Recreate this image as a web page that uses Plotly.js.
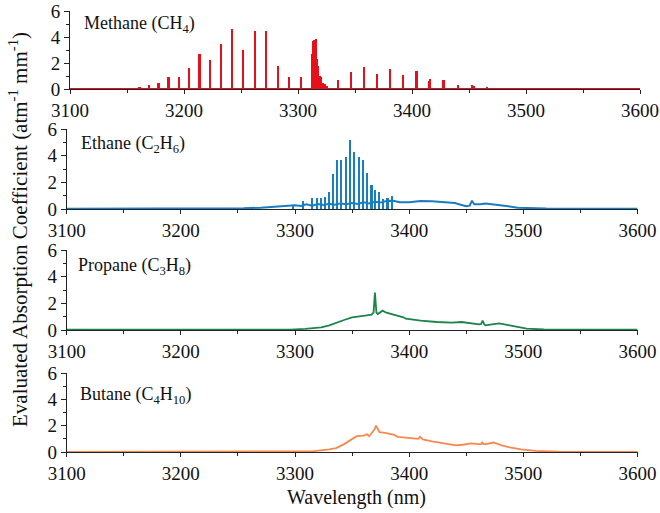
<!DOCTYPE html>
<html><head><meta charset="utf-8">
<script src="https://cdn.plot.ly/plotly-3.0.1.min.js"></script>
<style>body{margin:0;background:#fff;} #chart{width:660px;height:513px;}</style>
</head><body><div id="chart"></div>
<script>
// Methane stick lines (nm, coefficient)
const methaneNm  = [3135,3143,3152.7,3161,3169.3,3177.7,3186.3,3195.3,3204.3,3213.7,3223,3232.7,3242,3252,3262,3272,3282.3,3292.3,3302.7,
  3310.5,3312.6,3313.5,3314.5,3315.5,3316.4,3317.3,3318.2,3319.2,3320.3,3322,3323.5,3325,3327,
  3335.3,3346.7,3357.7,3369.3,3380.7,3392.3,3404,3414.7,3416,3427.7,3440.3,3452.7,3454.5,3465.7,3478.3,3491.7,3505,3520,3535];
const methaneVal = [0.03,0.05,0.08,0.15,0.3,0.5,0.9,0.9,1.6,2.7,2.2,3.5,4.6,3.0,4.5,4.45,1.8,0.9,0.95,
  0.1,2.7,3.7,3.8,3.85,2.3,1.8,1.0,1.0,0.9,0.45,0.4,0.2,0.08,
  0.7,1.3,1.7,1.15,1.55,1.05,1.4,0.6,0.75,0.7,0.3,0.3,0.25,0.12,0.1,0.05,0.03,0.03,0.02];
const methaneBaseNm  = [3100,3600];
const methaneBaseVal = [0,0];

// Ethane sharp features and continuum
const ethaneSpikeNm  = [3298,3307,3315,3319,3322.6,3326,3329.4,3333,3337,3340.6,3344.3,3348.5,3352,3355.7,3359.4,3363.4,3367,3370,3373.8,3376.8,3381,3384.6];
const ethaneSpikeVal = [0.33,0.6,0.8,0.85,0.85,0.93,1.28,2.6,3.7,3.65,3.9,5.2,4.25,3.9,3.7,2.7,1.8,1.43,1.3,0.75,0.8,0.95];
const ethaneNm  = [3100,3200,3240,3255,3270,3285,3300,3305,3310,3315,3320,3325,3330,3335,3340,3345,3350,3355,3360,3365,3370,3375,3380,3386,3392,3400,3410,3420,3430,3440,3446,3450,3453,3455,3457,3462,3467,3475,3485,3495,3505,3520,3560,3600];
const ethaneVal = [0.02,0.02,0.03,0.05,0.1,0.2,0.28,0.22,0.35,0.25,0.38,0.3,0.4,0.32,0.42,0.35,0.45,0.38,0.5,0.42,0.55,0.48,0.6,0.62,0.5,0.5,0.6,0.58,0.52,0.45,0.3,0.2,0.25,0.62,0.35,0.35,0.42,0.35,0.22,0.1,0.05,0.03,0.02,0.02];

// Propane
const propaneNm  = [3100,3200,3290,3296,3309,3323,3330,3336,3343,3350,3356.6,3363,3367,3368.8,3370,3371.3,3372.5,3374,3376.8,3380,3387,3395,3397,3410,3424,3437,3446,3454,3461,3463,3464.3,3465.8,3467,3471,3479,3488,3496,3503,3518,3542,3600];
const propaneVal = [0.02,0.02,0.02,0.03,0.08,0.2,0.35,0.55,0.75,0.95,1.05,1.1,1.15,1.3,2.8,1.3,1.2,1.3,1.45,1.3,1.15,0.95,0.85,0.7,0.6,0.55,0.6,0.5,0.42,0.45,0.7,0.42,0.35,0.4,0.5,0.35,0.2,0.1,0.04,0.02,0.02];

// Butane
const butaneNm  = [3100,3200,3303,3315,3330,3336,3343,3350,3354,3360,3363,3365,3367,3369.5,3371,3372.5,3374,3379,3387,3390,3397,3404,3408,3409.5,3411,3412,3420,3431,3441,3447,3454,3461,3463,3464,3465,3467,3474,3481,3488,3498,3511,3531,3565,3600];
const butaneVal = [0.01,0.01,0.01,0.05,0.2,0.3,0.6,1.0,1.2,1.25,1.35,1.2,1.4,1.7,2.0,1.7,1.5,1.45,1.3,1.15,1.1,1.05,1.0,1.15,1.0,0.95,0.8,0.65,0.5,0.55,0.65,0.6,0.6,0.72,0.6,0.6,0.72,0.5,0.35,0.2,0.08,0.03,0.01,0.0];

const xTickVals = [3100,3200,3300,3400,3500,3600];
const yTickVals = [0,2,4,6];

const colMethane = '#e5101a', colEthane = '#1a7cc1', colPropane = '#1d8348', colButane = '#f6894d';
const FONT = '"Liberation Serif", "Times New Roman", Times, serif';
const W = 660, H = 513;

function xax(dom, anchor){
  return {domain: dom, anchor: anchor, range: [3100,3600], tickvals: xTickVals, ticktext: xTickVals.map(String),
    showline: true, linecolor: '#222', linewidth: 1, ticks: 'outside', ticklen: 4, tickcolor: '#222',
    minor: {dtick: 50, tick0: 3100, ticks: 'outside', ticklen: 3, tickcolor: '#222'},
    showgrid: false, zeroline: false, tickfont: {family: FONT, size: 19, color: '#111'}, fixedrange: true};
}
function yax(dom, anchor){
  return {domain: dom, anchor: anchor, range: [0,6], tickvals: yTickVals,
    showline: true, linecolor: '#222', linewidth: 1, ticks: 'outside', ticklen: 5, tickcolor: '#222',
    minor: {dtick: 1, tick0: 0, ticks: 'outside', ticklen: 3, tickcolor: '#222'},
    showgrid: false, zeroline: false, tickfont: {family: FONT, size: 19, color: '#111'}, fixedrange: true};
}
const xd1 = [70/W, 640/W], xd = [66.7/W, 637.5/W];
const yd = [[1-89/H, 1-11/H],[1-209/H, 1-129/H],[1-330/H, 1-250/H],[1-452/H, 1-373/H]];

const traces = [
  {type:'scatter', mode:'lines', x: methaneBaseNm, y: methaneBaseVal, xaxis:'x', yaxis:'y', line:{color: colMethane, width: 2}},
  {type:'bar', x: methaneNm, y: methaneVal, xaxis:'x', yaxis:'y', width: 2.0, marker:{color: colMethane, line:{width:0}}},
  {type:'bar', x: ethaneSpikeNm, y: ethaneSpikeVal, xaxis:'x2', yaxis:'y2', width: 1.8, marker:{color: colEthane, line:{width:0}}},
  {type:'scatter', mode:'lines', x: ethaneNm, y: ethaneVal, xaxis:'x2', yaxis:'y2', line:{color: colEthane, width: 2}},
  {type:'scatter', mode:'lines', x: propaneNm, y: propaneVal, xaxis:'x3', yaxis:'y3', line:{color: colPropane, width: 1.8}},
  {type:'scatter', mode:'lines', x: butaneNm, y: butaneVal, xaxis:'x4', yaxis:'y4', line:{color: colButane, width: 1.8}}
];

function label(txt, xpx, ypx){
  return {text: txt, xref:'paper', yref:'paper', x: xpx/W, y: 1-ypx/H, xanchor:'left', yanchor:'middle',
    showarrow:false, font:{family: FONT, size: 18, color:'#111'}};
}

const layout = {
  width: W, height: H, margin:{l:0,r:0,t:0,b:0}, paper_bgcolor:'#fff', plot_bgcolor:'rgba(0,0,0,0)',
  font: {family: FONT, color: '#111'},
  showlegend: false, barmode: 'overlay', bargap: 0,
  xaxis: xax(xd1,'y'), yaxis: yax(yd[0],'x'),
  xaxis2: xax(xd,'y2'), yaxis2: yax(yd[1],'x2'),
  xaxis3: xax(xd,'y3'), yaxis3: yax(yd[2],'x3'),
  xaxis4: xax(xd,'y4'), yaxis4: yax(yd[3],'x4'),
  annotations: [
    label('Methane (CH<sub>4</sub>)', 82, 24),
    label('Ethane (C<sub>2</sub>H<sub>6</sub>)', 79, 144),
    label('Propane (C<sub>3</sub>H<sub>8</sub>)', 76, 266),
    label('Butane (C<sub>4</sub>H<sub>10</sub>)', 78, 395),
    {text:'Wavelength (nm)', xref:'paper', yref:'paper', x: 356/W, y: 1-497/H, xanchor:'center', yanchor:'middle',
      showarrow:false, font:{family: FONT, size: 20, color:'#111'}},
    {text:'Evaluated Absorption Coefficient (atm<sup>-1</sup> mm<sup>-1</sup>)', xref:'paper', yref:'paper', x: 18/W, y: 1-230/H,
      xanchor:'center', yanchor:'middle', textangle: -90, showarrow:false, font:{family: FONT, size: 21, color:'#111'}}
  ]
};
Plotly.newPlot('chart', traces, layout, {displayModeBar:false, staticPlot:true});
</script>
</body></html>
